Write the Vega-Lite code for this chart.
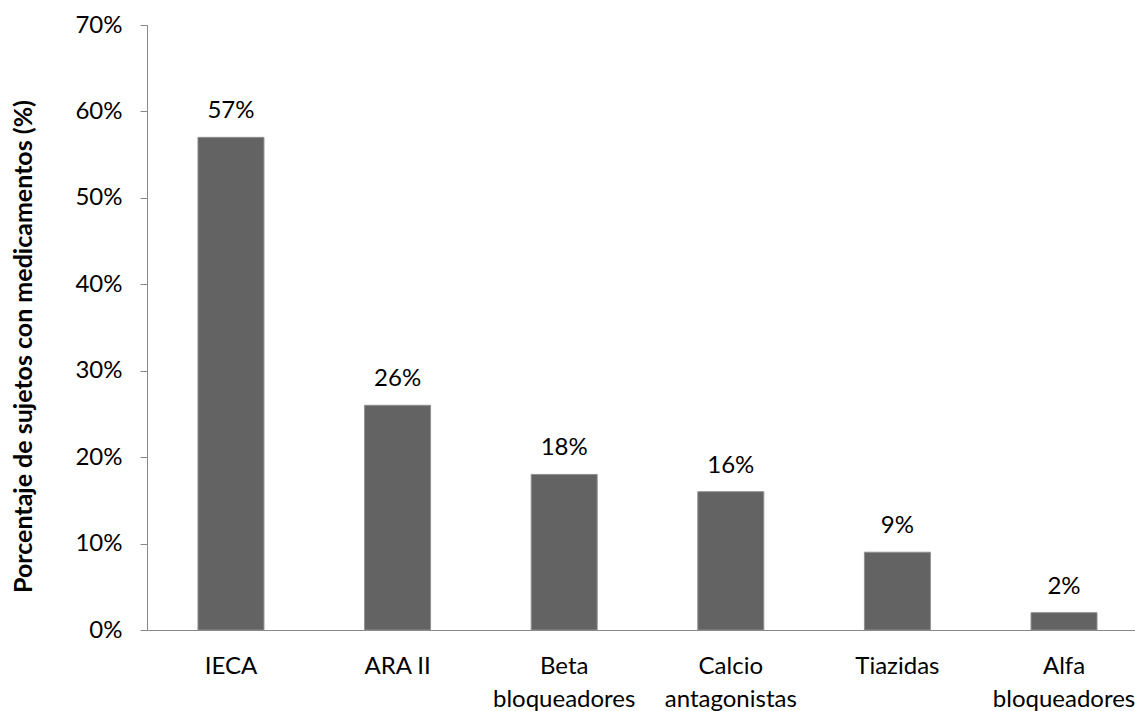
{
  "$schema": "https://vega.github.io/schema/vega-lite/v6.json",
  "width": 988,
  "height": 605,
  "autosize": {"type": "none"},
  "padding": {"left": 147, "top": 25, "right": 0, "bottom": 81},
  "background": "white",
  "config": {
    "font": "Lato",
    "view": {"stroke": null},
    "axis": {"grid": false, "domainColor": "#898989", "tickColor": "#898989", "labelColor": "black", "labelFont": "Lato", "labelFontSize": 24, "titleFont": "Lato"}
  },
  "data": {
    "values": [
      {"clase": "IECA", "pct": 0.57},
      {"clase": "ARA II", "pct": 0.26},
      {"clase": "Beta bloqueadores", "pct": 0.18},
      {"clase": "Calcio antagonistas", "pct": 0.16},
      {"clase": "Tiazidas", "pct": 0.09},
      {"clase": "Alfa bloqueadores", "pct": 0.02}
    ]
  },
  "encoding": {
    "x": {
      "field": "clase",
      "type": "nominal",
      "sort": null,
      "scale": {"paddingInner": 0.604, "paddingOuter": 0.267, "align": 0.573},
      "axis": {
        "title": null,
        "ticks": false,
        "tickSize": 0,
        "labelAngle": 0,
        "labelPadding": 43,
        "labelBaseline": "alphabetic",
        "labelLineHeight": 33,
        "labelOverlap": false,
        "labelBound": false,
        "labelFlush": false,
        "labelExpr": "datum.label == 'ARA II' ? datum.label : split(datum.label, ' ')"
      }
    },
    "y": {
      "field": "pct",
      "type": "quantitative",
      "scale": {"domain": [0, 0.7], "nice": false},
      "axis": {
        "title": "Porcentaje de sujetos con medicamentos (%)",
        "titleFontSize": 25,
        "titleFontWeight": "bold",
        "titleColor": "black",
        "titleAngle": -90,
        "titleAlign": "center",
        "titleBaseline": "alphabetic",
        "titleX": -116,
        "titleY": 321,
        "format": ".0%",
        "values": [0, 0.1, 0.2, 0.3, 0.4, 0.5, 0.6, 0.7],
        "tickSize": 7,
        "labelPadding": 18
      }
    }
  },
  "layer": [
    {
      "mark": {"type": "bar", "color": "#636363", "stroke": "#8f8f8f", "strokeWidth": 1}
    },
    {
      "mark": {"type": "text", "fontSize": 24, "color": "black", "baseline": "alphabetic", "dy": -19},
      "encoding": {"text": {"field": "pct", "type": "quantitative", "format": ".0%"}}
    }
  ]
}
